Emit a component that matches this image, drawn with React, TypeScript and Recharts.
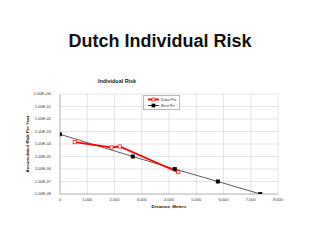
import { CartesianGrid, Line, LineChart, XAxis, YAxis } from 'recharts';

const DATA_X = [540, 1890, 2190, 4340];
const DATA_RISK = [1.4e-4, 5.3e-5, 6.3e-5, 5.5e-7];
const FIT_X = [0, 2670, 4210, 5790, 7350];
const FIT_RISK = [6e-4, 1e-5, 1e-6, 1e-7, 1e-8];

const X_TICKS = [0, 1000, 2000, 3000, 4000, 5000, 6000, 7000, 8000];
const Y_TICKS = [1e-8, 1e-7, 1e-6, 1e-5, 1e-4, 1e-3, 1e-2, 1e-1, 1];

const DATA_COLOR = '#ff0000';
const FIT_COLOR = '#000000';
const FONT = '"Liberation Sans", Arial, sans-serif';

const dataPts = DATA_X.map((x, i) => ({ x, risk: DATA_RISK[i] }));
const fitPts = FIT_X.map((x, i) => ({ x, risk: FIT_RISK[i] }));

// Excel style "1.00E-05"
const sci = (v: number) => {
  const exp = Math.round(Math.log10(v));
  const sign = exp < 0 ? '-' : '+';
  return `1.00E${sign}${String(Math.abs(exp)).padStart(2, '0')}`;
};

const thousands = (v: number) => v.toLocaleString('en-US');

interface DotProps {
  cx?: number;
  cy?: number;
}

const squareDot =
  (fill: string, stroke: string) =>
  ({ cx, cy }: DotProps) => {
    if (cx === undefined || cy === undefined) return null;
    return (
      <rect
        key={`${cx}-${cy}`}
        x={cx - 1.6}
        y={cy - 1.6}
        width={3.2}
        height={3.2}
        fill={fill}
        stroke={stroke}
        strokeWidth={0.7}
      />
    );
  };

function LegendBox() {
  const rows = [
    { label: 'Data Pts', color: DATA_COLOR, fill: '#fff', width: 1.8 },
    { label: 'Best Fit', color: FIT_COLOR, fill: FIT_COLOR, width: 0.8 },
  ];
  return (
    <div
      style={{
        position: 'absolute',
        left: 143,
        top: 95,
        border: '0.5px solid #bbb',
        background: '#fff',
        padding: '1px 3px 1px 4px',
        fontFamily: FONT,
        fontSize: 4,
        color: '#333',
        lineHeight: '5.7px',
      }}
    >
      {rows.map((r) => (
        <div key={r.label} style={{ display: 'flex', alignItems: 'center', gap: 2 }}>
          <svg width={11} height={5}>
            <line x1={0} y1={2.5} x2={11} y2={2.5} stroke={r.color} strokeWidth={r.width} />
            <rect x={4} y={1} width={3} height={3} fill={r.fill} stroke={r.color} strokeWidth={0.7} />
          </svg>
          <span>{r.label}</span>
        </div>
      ))}
    </div>
  );
}

export default function App() {
  const tick = { fill: '#333', fontSize: 4, fontFamily: FONT };
  return (
    <div style={{ position: 'absolute', left: 0, top: 0, width: 320, height: 240, background: '#fff' }}>
      <div
        style={{
          position: 'absolute',
          top: 30,
          left: 0,
          width: 320,
          textAlign: 'center',
          fontFamily: FONT,
          fontWeight: 'bold',
          fontSize: 18,
          lineHeight: '22px',
          color: '#111',
        }}
      >
        Dutch Individual Risk
      </div>
      <div
        style={{
          position: 'absolute',
          top: 78,
          left: 117,
          transform: 'translateX(-50%)',
          fontFamily: FONT,
          fontWeight: 'bold',
          fontSize: 5.4,
          lineHeight: '6px',
          color: '#222',
          whiteSpace: 'nowrap',
        }}
      >
        Individual Risk
      </div>
      <LineChart
        width={320}
        height={240}
        margin={{ top: 94, right: 42, bottom: 0, left: 0 }}
        style={{ position: 'absolute', left: 0, top: 0 }}
      >
        <CartesianGrid stroke="#d4d4d4" strokeWidth={0.6} />
        <XAxis
          type="number"
          dataKey="x"
          domain={[0, 8000]}
          ticks={X_TICKS}
          interval={0}
          tickFormatter={thousands}
          tick={tick}
          tickLine={false}
          tickSize={0}
          tickMargin={4}
          axisLine={{ stroke: '#999', strokeWidth: 0.6 }}
          height={46}
          allowDataOverflow
          label={{
            value: 'Distance, Meters',
            position: 'insideTop',
            offset: 11,
            style: { fill: '#111', fontSize: 4.4, fontWeight: 'bold', fontFamily: FONT },
          }}
        />
        <YAxis
          type="number"
          dataKey="risk"
          scale="log"
          domain={[1e-8, 1]}
          ticks={Y_TICKS}
          interval={0}
          tickFormatter={sci}
          tick={tick}
          tickLine={false}
          tickSize={0}
          tickMargin={9}
          axisLine={{ stroke: '#999', strokeWidth: 0.6 }}
          width={60}
          allowDataOverflow
          label={{
            value: 'Accumulated Risk Per Year',
            angle: -90,
            position: 'insideLeft',
            offset: 27,
            style: { fill: '#111', fontSize: 4.4, fontWeight: 'bold', fontFamily: FONT, textAnchor: 'middle' },
          }}
        />
        <Line
          data={fitPts}
          dataKey="risk"
          name="Best Fit"
          stroke="#333"
          strokeWidth={0.8}
          dot={squareDot(FIT_COLOR, FIT_COLOR)}
          isAnimationActive={false}
        />
        <Line
          data={dataPts}
          dataKey="risk"
          name="Data Pts"
          stroke={DATA_COLOR}
          strokeWidth={1.8}
          dot={squareDot('#fff', DATA_COLOR)}
          isAnimationActive={false}
        />
      </LineChart>
      <LegendBox />
    </div>
  );
}
